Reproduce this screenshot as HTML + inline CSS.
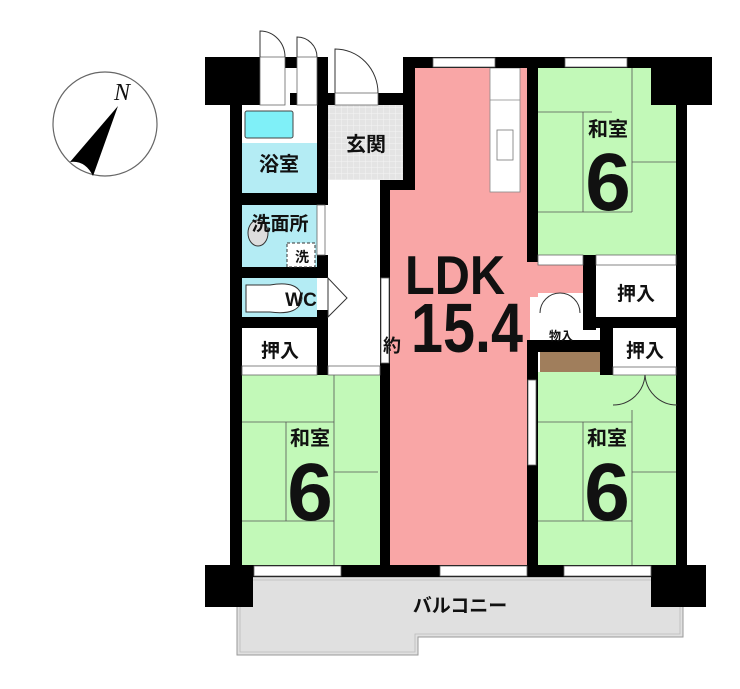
<!DOCTYPE html>
<html><head><meta charset="utf-8"><style>
html,body{margin:0;padding:0;background:#fff}
svg{display:block}
text{font-family:"Liberation Sans","Noto Sans CJK JP",sans-serif;font-weight:bold;fill:#111}
</style></head><body>
<svg width="740" height="689" viewBox="0 0 740 689" xmlns="http://www.w3.org/2000/svg">
<defs>
<pattern id="grid" width="6" height="6" patternUnits="userSpaceOnUse">
<rect width="6" height="6" fill="#e4e4e4"/><path d="M6 0V6H0" fill="none" stroke="#f4f4f4" stroke-width="1"/>
</pattern>
</defs>
<!-- compass -->
<circle cx="105" cy="124" r="52" fill="none" stroke="#666" stroke-width="1.2"/>
<text x="114" y="100" style="font-family:'Liberation Serif',serif;font-style:italic;font-weight:normal" font-size="24">N</text>
<path d="M118 106 L70 162 Q85 160 93 176 Z" fill="#000"/>
<!-- balcony -->
<path d="M237 577 H683 V637 H418 V655 H237 Z" fill="#e0e0e0" stroke="#999" stroke-width="1"/>
<path d="M240 580 H680 V634 H415 V652 H240 Z" fill="none" stroke="#bbb" stroke-width="0.8"/>
<text x="460" y="612" text-anchor="middle" font-size="19">バルコニー</text>
<!-- room fills -->
<rect x="390" y="190" width="140" height="378" fill="#f9a6a6"/>
<rect x="412" y="66" width="118" height="130" fill="#f9a6a6"/>
<rect x="527" y="262" width="60" height="35" fill="#f9a6a6"/>
<rect x="538" y="66" width="140" height="192" fill="#c2f9b8"/>
<rect x="538" y="372" width="140" height="195" fill="#c2f9b8"/>
<rect x="242" y="372" width="138" height="195" fill="#c2f9b8"/>
<rect x="328" y="105" width="75" height="75" fill="url(#grid)"/>
<rect x="242" y="143" width="75" height="50" fill="#b4ecf4"/>
<rect x="242" y="205" width="75" height="63" fill="#b4ecf4"/>
<rect x="242" y="278" width="75" height="40" fill="#b4ecf4"/>
<rect x="245" y="111" width="48" height="27" rx="2" fill="#7ff0f8" stroke="#444" stroke-width="1"/>
<!-- kitchen -->
<rect x="490" y="68" width="30" height="124" fill="#fff" stroke="#888" stroke-width="0.8"/>
<line x1="490" y1="100" x2="520" y2="100" stroke="#888" stroke-width="0.8"/>
<rect x="497" y="130" width="16" height="30" fill="#fff" stroke="#777" stroke-width="0.8"/>
<!-- tatami lines -->
<g stroke="#555" stroke-width="0.8" fill="none">
<path d="M538 112 H612 M583 112 V212 M632 68 V212 M632 162 H677 M538 212 H632"/>
<path d="M334 375 V565 M242 422 H334 M242 521 H334 M286 422 V521 M334 472 H378"/>
<path d="M632 410 V565 M538 422 H632 M538 521 H632 M583 422 V521 M632 472 H677"/>
</g>
<!-- walls -->
<g fill="#000">
<rect x="205" y="57" width="55" height="48"/>
<rect x="230" y="57" width="12" height="520"/>
<rect x="205" y="565" width="48" height="42"/>
<rect x="651" y="565" width="55" height="42"/>
<rect x="651" y="57" width="61" height="48"/>
<rect x="676" y="57" width="11" height="520"/>
<rect x="230" y="565" width="457" height="12"/>
<rect x="403" y="57" width="309" height="11"/>
<rect x="403" y="57" width="12" height="133"/>
<rect x="380" y="180" width="35" height="10"/>
<rect x="380" y="180" width="10" height="397"/>
<rect x="285" y="57" width="12" height="11"/>
<rect x="317" y="57" width="11" height="48"/>
<rect x="290" y="93" width="45" height="12"/>
<rect x="378" y="93" width="25" height="12"/>
<rect x="527" y="57" width="11" height="205"/>
<rect x="527" y="340" width="11" height="237"/>
<rect x="317" y="105" width="11" height="100"/>
<rect x="317" y="255" width="11" height="23"/>
<rect x="317" y="310" width="11" height="65"/>
<rect x="242" y="193" width="75" height="12"/>
<rect x="242" y="267" width="86" height="11"/>
<rect x="242" y="317" width="86" height="11"/>
<rect x="583" y="255" width="13" height="75"/>
<rect x="583" y="317" width="94" height="11"/>
<rect x="527" y="340" width="73" height="12"/>
<rect x="600" y="328" width="13" height="47"/>
</g>
<!-- white closets / misc -->
<rect x="596" y="265" width="80" height="52" fill="#fff"/>
<rect x="613" y="328" width="63" height="40" fill="#fff"/>
<rect x="242" y="328" width="75" height="38" fill="#fff"/>
<rect x="538" y="293" width="45" height="47" fill="#fff"/>
<rect x="583" y="330" width="17" height="10" fill="#fff"/>
<rect x="540" y="352" width="60" height="20" fill="#a07e5c"/>
<!-- windows -->
<g fill="#fff" stroke="#666" stroke-width="0.8">
<rect x="433" y="58" width="62" height="9"/><rect x="565" y="58" width="62" height="9"/>
<rect x="254" y="566" width="87" height="10"/><rect x="440" y="566" width="87" height="10"/><rect x="564" y="566" width="87" height="10"/>
<rect x="381" y="278" width="8" height="85"/><rect x="528" y="380" width="8" height="85"/>
<rect x="260" y="57" width="25" height="48"/><rect x="297" y="57" width="20" height="48"/>
<rect x="335" y="93" width="43" height="12"/>
<rect x="538" y="255" width="45" height="10"/><rect x="596" y="255" width="80" height="10"/>
<rect x="242" y="366" width="75" height="9"/><rect x="328" y="366" width="52" height="9"/>
<rect x="613" y="367" width="63" height="8"/>
<rect x="317" y="205" width="8" height="50"/>
</g>
<g fill="none" stroke="#333" stroke-width="1">
<path d="M260 57 V31 A25 26 0 0 1 285 57"/>
<path d="M297 57 V37 A20 20 0 0 1 317 57"/>
<path d="M335 93 V49 A43 44 0 0 1 378 93"/>
<path d="M328 278 V317 L347 298 Z"/>
<path d="M540 313 A20 20 0 0 1 560 293 M580 313 A20 20 0 0 0 560 293"/>
<path d="M613 405 A32 32 0 0 0 645 375 M677 405 A32 32 0 0 1 645 375"/>
<ellipse cx="258" cy="233" rx="10" ry="13" fill="#ddd"/>
<rect x="287" y="243" width="28" height="24" fill="#fff" stroke-dasharray="3 2"/>
<path d="M246 285 H270 Q300 280 302 298 Q300 316 270 312 H246 Z" fill="#fff"/>
</g>
<!-- labels -->
<text x="366" y="151" text-anchor="middle" font-size="20">玄関</text>
<text x="279" y="171" text-anchor="middle" font-size="20">浴室</text>
<text x="280" y="230" text-anchor="middle" font-size="19">洗面所</text>
<text x="302" y="262" text-anchor="middle" font-size="14">洗</text>
<text x="301" y="306" text-anchor="middle" font-size="19">WC</text>
<text x="280" y="357" text-anchor="middle" font-size="19">押入</text>
<text x="636" y="300" text-anchor="middle" font-size="19">押入</text>
<text x="645" y="357" text-anchor="middle" font-size="19">押入</text>
<text x="561" y="340" text-anchor="middle" font-size="12">物入</text>
<text x="455" y="294" text-anchor="middle" font-size="55" textLength="100" lengthAdjust="spacingAndGlyphs">LDK</text>
<text x="392" y="352" text-anchor="middle" font-size="18">約</text>
<text x="467" y="352" text-anchor="middle" font-size="70" textLength="112" lengthAdjust="spacingAndGlyphs">15.4</text>
<text x="608" y="136" text-anchor="middle" font-size="20">和室</text>
<text x="608" y="210" text-anchor="middle" font-size="82">6</text>
<text x="310" y="445" text-anchor="middle" font-size="20">和室</text>
<text x="310" y="520" text-anchor="middle" font-size="82">6</text>
<text x="607" y="445" text-anchor="middle" font-size="20">和室</text>
<text x="607" y="520" text-anchor="middle" font-size="82">6</text>
</svg>
</body></html>
